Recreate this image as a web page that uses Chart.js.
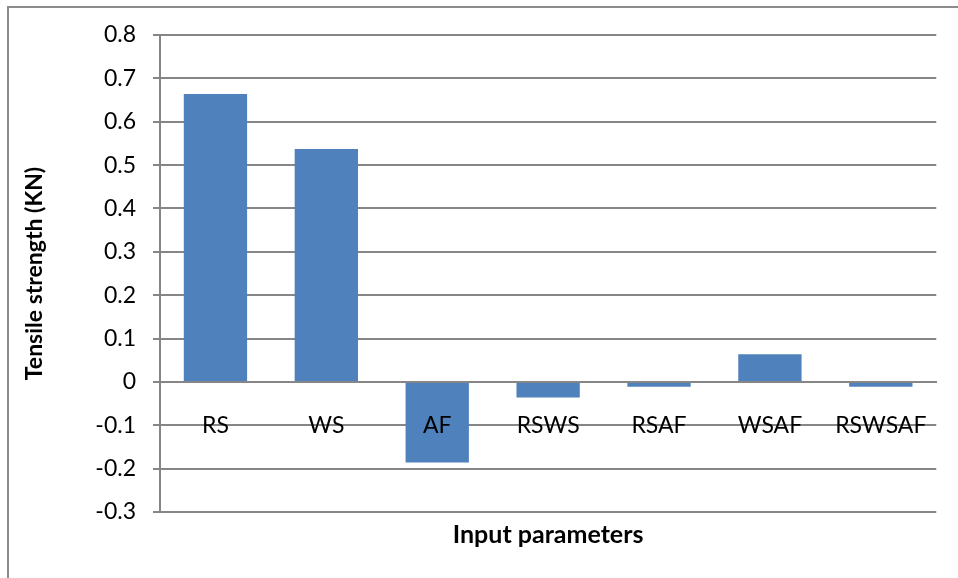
<!DOCTYPE html>
<html>
<head>
<meta charset="utf-8">
<script src="https://cdn.jsdelivr.net/npm/chart.js@4/dist/chart.umd.min.js"></script>
<style>
  html, body { margin: 0; padding: 0; background: #fff; overflow: hidden; }
  #frame { position: absolute; left: 7px; top: 6px; width: 1000px; height: 1000px; border: 2px solid #8c8c8c; box-sizing: border-box; }
  #wrap { position: absolute; left: 0; top: 0; width: 958px; height: 578px; }
</style>
</head>
<body>
<div id="frame"></div>
<div id="wrap"><canvas id="c" width="958" height="578"></canvas></div>
<script>
// Effect of each input parameter (and interaction) on tensile strength
const categories = ['RS', 'WS', 'AF', 'RSWS', 'RSAF', 'WSAF', 'RSWSAF'];
const tensileEffect = [0.664, 0.537, -0.186, -0.036, -0.011, 0.064, -0.011];
const yTicks = [-0.3, -0.2, -0.1, 0, 0.1, 0.2, 0.3, 0.4, 0.5, 0.6, 0.7, 0.8];

const gridGray = '#868686';
const fontFamily = 'Lato, "Open Sans", sans-serif';

new Chart(document.getElementById('c'), {
  type: 'bar',
  data: {
    labels: categories,
    datasets: [{
      data: tensileEffect,
      backgroundColor: '#4f81bd',
      borderWidth: 0,
      categoryPercentage: 1,
      barPercentage: 0.571
    }]
  },
  options: {
    responsive: false,
    animation: false,
    devicePixelRatio: 1,
    layout: { padding: { top: 35, right: 20, left: 0, bottom: 0 } },
    plugins: { legend: { display: false }, tooltip: { enabled: false } },
    scales: {
      x: {
        type: 'category',
        position: { y: 0 },
        grid: { display: false, drawTicks: false },
        border: { display: true, color: gridGray, width: 2, z: 1 },
        ticks: { z: 2, color: '#000', font: { family: fontFamily, size: 23 }, padding: 30, maxRotation: 0, autoSkip: false }
      },
      x2: {
        type: 'category',
        labels: categories,
        position: 'bottom',
        grid: { display: false, drawTicks: false },
        border: { display: false },
        ticks: { display: false },
        title: {
          display: true,
          text: 'Input parameters',
          color: '#000',
          font: { family: fontFamily, size: 25, weight: 'bold' },
          padding: { top: 8, bottom: 28 }
        },
        afterFit(scale) { scale.height = 66; }
      },
      y: {
        min: -0.3,
        max: 0.8,
        afterBuildTicks(scale) { scale.ticks = yTicks.map(v => ({ value: v })); },
        grid: { color: gridGray, lineWidth: 2, tickLength: 7, tickColor: gridGray },
        border: { display: true, color: gridGray, width: 2 },
        ticks: {
          color: '#000',
          padding: 17,
          font: { family: fontFamily, size: 23 },
          callback: (v) => String(Math.round(v * 10) / 10)
        },
        title: {
          display: true,
          text: 'Tensile strength (KN)',
          color: '#000',
          font: { family: fontFamily, size: 23, weight: 'bold' },
          padding: { top: 21, bottom: 0 }
        },
        afterFit(scale) { scale.width = 160; }
      }
    }
  }
});
</script>
</body>
</html>
